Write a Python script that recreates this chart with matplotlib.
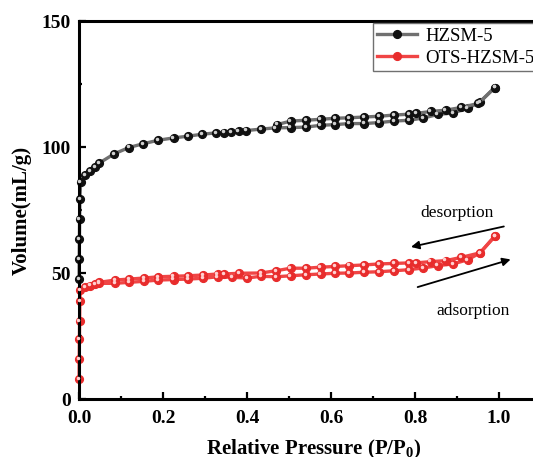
import matplotlib
matplotlib.use('Agg')
import matplotlib.pyplot as plt
from matplotlib.ticker import MultipleLocator
from matplotlib.transforms import offset_copy

plt.rcParams['font.family'] = 'Liberation Serif'
plt.rcParams['mathtext.fontset'] = 'custom'
plt.rcParams['mathtext.rm'] = 'Liberation Serif'
plt.rcParams['mathtext.bf'] = 'Liberation Serif:bold'

# HZSM-5 adsorption branch (P/P0, volume)
hz_ads_p = [0.0002, 0.0005, 0.001, 0.0015, 0.002, 0.004, 0.014, 0.026, 0.038, 0.048,
            0.084, 0.119, 0.153, 0.189, 0.225, 0.26, 0.294, 0.327, 0.345, 0.363,
            0.38, 0.397, 0.433, 0.468, 0.504, 0.54, 0.575, 0.61, 0.644, 0.679,
            0.715, 0.751, 0.785, 0.82, 0.854, 0.89, 0.925, 0.955, 0.99]
hz_ads_v = [47.6, 55.6, 63.5, 71.5, 79.2, 86.1, 88.7, 90.5, 92.0, 93.6,
            97.3, 99.8, 101.3, 102.7, 103.6, 104.3, 105.1, 105.6, 105.7, 106.0,
            106.2, 106.5, 107.1, 107.6, 107.7, 107.9, 108.6, 108.9, 109.3, 109.3,
            109.7, 110.3, 110.6, 111.5, 112.9, 113.5, 115.3, 117.9, 123.6]

# HZSM-5 desorption branch
hz_des_p = [0.99, 0.951, 0.91, 0.873, 0.837, 0.802, 0.785, 0.751, 0.715, 0.679,
            0.644, 0.61, 0.575, 0.54, 0.504, 0.472]
hz_des_v = [123.6, 117.3, 115.7, 114.6, 114.1, 113.3, 113.0, 112.7, 112.2, 111.9,
            111.6, 111.4, 111.0, 110.6, 110.3, 108.9]

# OTS-HZSM-5 adsorption branch
ots_ads_p = [0.0002, 0.0005, 0.001, 0.0015, 0.002, 0.003, 0.014, 0.026, 0.038, 0.048,
             0.086, 0.12, 0.155, 0.189, 0.225, 0.26, 0.295, 0.33, 0.364, 0.4,
             0.433, 0.469, 0.504, 0.54, 0.575, 0.61, 0.644, 0.679, 0.715, 0.751,
             0.785, 0.82, 0.854, 0.89, 0.925, 0.955, 0.99]
ots_ads_v = [7.8, 15.8, 23.8, 31.0, 39.0, 43.2, 44.3, 45.0, 45.6, 45.9,
             45.9, 46.3, 46.7, 47.2, 47.4, 47.6, 47.9, 48.5, 48.3, 48.0,
             48.7, 48.5, 48.9, 49.3, 49.6, 49.9, 50.0, 50.3, 50.5, 50.9,
             51.3, 52.0, 52.9, 53.6, 55.2, 58.0, 64.6]

# OTS-HZSM-5 desorption branch
ots_des_p = [0.99, 0.955, 0.91, 0.873, 0.837, 0.802, 0.785, 0.751, 0.715, 0.679,
             0.644, 0.61, 0.575, 0.54, 0.504, 0.469, 0.433, 0.382, 0.345, 0.33,
             0.295, 0.26, 0.225, 0.189, 0.155, 0.12, 0.086, 0.048]
ots_des_v = [64.6, 58.0, 56.2, 54.9, 54.5, 54.0, 54.0, 53.8, 53.6, 53.2,
             52.9, 52.6, 52.3, 51.9, 51.9, 50.9, 50.0, 49.9, 49.6, 49.6,
             49.2, 48.9, 48.7, 48.5, 48.0, 47.6, 47.2, 46.3]

fig = plt.figure(figsize=(5.33, 4.57), dpi=100)
ax = fig.add_axes([79 / 533, 58 / 457, 1.12 * 420 / 533, 378 / 457])

hl = offset_copy(ax.transData, fig=fig, x=-1.2, y=1.2, units='dots')


def draw(p, v, line_c, face_c, shine_c, label=None):
    ax.plot(p, v, '-', color=line_c, lw=2.4, zorder=2, label=label,
             marker='o', ms=5.6, mfc=face_c, mec=face_c, clip_on=False)
    ax.plot(p, v, 'o', ms=1.5, color=shine_c, mec=shine_c, transform=hl,
            zorder=3, clip_on=False)


draw(ots_ads_p, ots_ads_v, '#f04545', '#e82c2c', '#ffd0d0', 'OTS-HZSM-5')
draw(ots_des_p, ots_des_v, '#f04545', '#e82c2c', '#ffd0d0')
draw(hz_ads_p, hz_ads_v, '#707070', '#101010', '#d0d0d0', 'HZSM-5')
draw(hz_des_p, hz_des_v, '#707070', '#101010', '#d0d0d0')

ax.set_xlim(0, 1.12)
ax.set_ylim(0, 150)
ax.xaxis.set_major_locator(MultipleLocator(0.2))
ax.xaxis.set_minor_locator(MultipleLocator(0.1))
ax.yaxis.set_major_locator(MultipleLocator(50))
ax.yaxis.set_minor_locator(MultipleLocator(25))
ax.tick_params(which='both', direction='in', width=1.6, top=False, right=False)
ax.tick_params(which='major', length=5, labelsize=14)
ax.tick_params(axis='x', which='major', pad=8)
ax.tick_params(axis='y', which='major', pad=6)
ax.tick_params(which='minor', length=2.5)
for lab in ax.get_xticklabels() + ax.get_yticklabels():
    lab.set_fontweight('bold')
for s in ax.spines.values():
    s.set_linewidth(2.2)

ax.set_xlabel(r'Relative Pressure (P/P$_{\mathbf{0}}$)', fontsize=15,
              fontweight='bold', labelpad=8)
ax.set_ylabel('Volume(mL/g)', fontsize=15, fontweight='bold', labelpad=7)

h, l = ax.get_legend_handles_labels()
leg = ax.legend(h[::-1], l[::-1], loc='upper left', bbox_to_anchor=(0.624, 0.995),
                borderaxespad=0, fontsize=13.5, frameon=True, fancybox=False,
                edgecolor='#707070', framealpha=1, handlelength=2.1,
                handletextpad=0.45, labelspacing=0.25, borderpad=0.25)
leg.get_frame().set_linewidth(1.0)

# arrows and notes
ax.annotate('', xy=(0.784, 60.1), xytext=(1.018, 68.7),
            arrowprops=dict(arrowstyle='-|>', color='black', lw=1.3, mutation_scale=12))
ax.annotate('', xy=(1.034, 55.7), xytext=(0.80, 44.1),
            arrowprops=dict(arrowstyle='-|>', color='black', lw=1.3, mutation_scale=12))
ax.text(0.899, 73.8, 'desorption', fontsize=12.5, ha='center', va='center')
ax.text(0.938, 34.8, 'adsorption', fontsize=12.5, ha='center', va='center')

fig.savefig('out.png', dpi=100)
